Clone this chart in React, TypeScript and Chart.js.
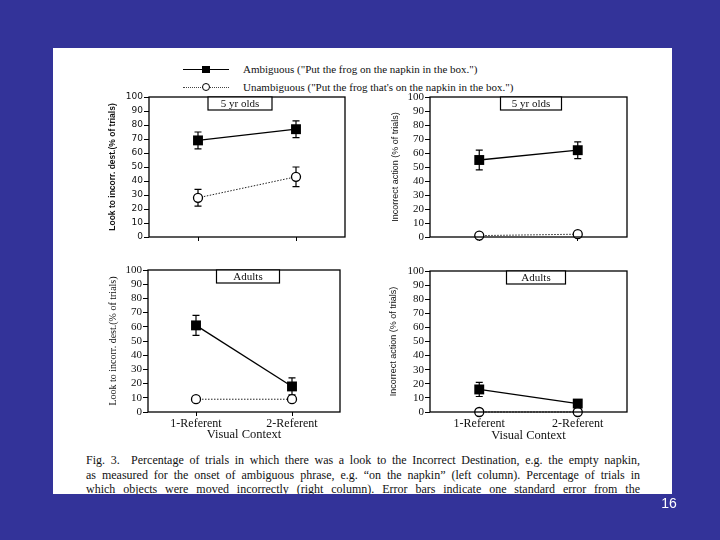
import React, { useEffect, useLayoutEffect, useRef } from "react";
import { Chart, registerables } from "chart.js";

Chart.register(...registerables);

// ---------- data ----------
const categories = ["1-Referent", "2-Referent"];
const legendLabels = [
  'Ambiguous ("Put the frog on the napkin in the box.")',
  'Unambiguous ("Put the frog that\'s on the napkin in the box.")',
];
const yAxisTitles = ["Look to incorr. dest.(% of trials)", "Incorrect action (% of trials)"];
const groupLabels = ["5 yr olds", "Adults"];
const xAxisTitle = "Visual Context";

const kidsLookAmbiguous = [69, 77];
const kidsLookAmbiguousErr = [6, 6];
const kidsLookUnambiguous = [28, 43];
const kidsLookUnambiguousErr = [6, 7];

const kidsActionAmbiguous = [55, 62];
const kidsActionAmbiguousErr = [7, 6];
const kidsActionUnambiguous = [1, 2];
const kidsActionUnambiguousErr = [0, 0];

const adultLookAmbiguous = [61, 18];
const adultLookAmbiguousErr = [7, 6];
const adultLookUnambiguous = [9, 9];
const adultLookUnambiguousErr = [0, 0];

const adultActionAmbiguous = [16, 6];
const adultActionAmbiguousErr = [5, 1];
const adultActionUnambiguous = [0, 0];
const adultActionUnambiguousErr = [0, 0];

const captionLines = [
  "Fig. 3.  Percentage of trials in which there was a look to the Incorrect Destination, e.g. the empty napkin,",
  "as measured for the onset of ambiguous phrase, e.g. \u201Con the napkin\u201D (left column). Percentage of trials in",
  "which objects were moved incorrectly (right column). Error bars indicate one standard error from the",
];
const pageNumber = "16";

// ---------- styling / layout ----------
const SERIF = "'Liberation Serif', 'Times New Roman', serif";
const SANS = "'Liberation Sans', Arial, sans-serif";
const W = 720;
const H = 540;

type Panel = {
  amb: number[];
  ambErr: number[];
  un: number[];
  unErr: number[];
  yTitle: string;
  group: string;
  area: { l: number; t: number; r: number; b: number };
  yW: number;
  xH: number;
  boxCx: number;
  boxW: number;
  showX: boolean;
  tickFont: any;
  titleFont: any;
};

const panels: Panel[] = [
  {
    amb: kidsLookAmbiguous, ambErr: kidsLookAmbiguousErr,
    un: kidsLookUnambiguous, unErr: kidsLookUnambiguousErr,
    yTitle: yAxisTitles[0], group: groupLabels[0],
    area: { l: 149, t: 97, r: 345, b: 237 }, yW: 41, xH: 5,
    boxCx: 240, boxW: 64, showX: false,
    tickFont: { family: "'DejaVu Sans', sans-serif", size: 9 },
    titleFont: { family: SANS, size: 8.5, weight: "bold" },
  },
  {
    amb: kidsActionAmbiguous, ambErr: kidsActionAmbiguousErr,
    un: kidsActionUnambiguous, unErr: kidsActionUnambiguousErr,
    yTitle: yAxisTitles[1], group: groupLabels[0],
    area: { l: 430, t: 97, r: 627, b: 237 }, yW: 40, xH: 5,
    boxCx: 531, boxW: 61, showX: false,
    tickFont: { family: SERIF, size: 11 },
    titleFont: { family: SANS, size: 9 },
  },
  {
    amb: adultLookAmbiguous, ambErr: adultLookAmbiguousErr,
    un: adultLookUnambiguous, unErr: adultLookUnambiguousErr,
    yTitle: yAxisTitles[0], group: groupLabels[1],
    area: { l: 148, t: 270, r: 340, b: 412 }, yW: 41, xH: 29,
    boxCx: 248, boxW: 63, showX: true,
    tickFont: { family: SERIF, size: 11 },
    titleFont: { family: SERIF, size: 10 },
  },
  {
    amb: adultActionAmbiguous, ambErr: adultActionAmbiguousErr,
    un: adultActionUnambiguous, unErr: adultActionUnambiguousErr,
    yTitle: yAxisTitles[1], group: groupLabels[1],
    area: { l: 430, t: 271, r: 627, b: 412 }, yW: 42, xH: 30,
    boxCx: 536, boxW: 59, showX: true,
    tickFont: { family: SERIF, size: 11 },
    titleFont: { family: SANS, size: 9 },
  },
];

function PanelChart({ p }: { p: Panel }) {
  const ref = useRef<HTMLCanvasElement | null>(null);
  useEffect(() => {
    if (!ref.current) return;
    const errors = [p.ambErr, p.unErr];
    const framePlugin = {
      id: "frame",
      beforeDatasetsDraw(chart: any) {
        const { ctx } = chart;
        const xs = chart.scales.x;
        const ys = chart.scales.y;
        ctx.save();
        ctx.strokeStyle = "#000";
        ctx.lineWidth = 1.2;
        errors.forEach((errs, di) => {
          const data = chart.data.datasets[di].data as number[];
          errs.forEach((e, i) => {
            if (!e) return;
            const x = xs.getPixelForValue(i);
            const yTop = ys.getPixelForValue(data[i] + e);
            const yBot = ys.getPixelForValue(data[i] - e);
            ctx.beginPath();
            ctx.moveTo(x, yTop);
            ctx.lineTo(x, yBot);
            ctx.moveTo(x - 3.5, yTop);
            ctx.lineTo(x + 3.5, yTop);
            ctx.moveTo(x - 3.5, yBot);
            ctx.lineTo(x + 3.5, yBot);
            ctx.stroke();
          });
        });
        ctx.restore();
      },
      afterDraw(chart: any) {
        const { ctx, chartArea: a } = chart;
        ctx.save();
        ctx.strokeStyle = "#000";
        ctx.lineWidth = 1.3;
        ctx.strokeRect(a.left, a.top, a.right - a.left, a.bottom - a.top);
        const bh = 13;
        const x0 = p.boxCx - p.boxW / 2;
        ctx.fillStyle = "#fff";
        ctx.fillRect(x0, a.top, p.boxW, bh);
        ctx.lineWidth = 1.2;
        ctx.strokeRect(x0, a.top, p.boxW, bh);
        ctx.fillStyle = "#111";
        ctx.font = `11px ${SERIF}`;
        ctx.textAlign = "center";
        ctx.textBaseline = "middle";
        ctx.fillText(p.group, p.boxCx, a.top + bh / 2 + 0.5);
        ctx.restore();
      },
    };
    const chart = new Chart(ref.current, {
      type: "line",
      data: {
        labels: categories,
        datasets: [
          {
            label: legendLabels[0],
            data: p.amb,
            borderColor: "#000",
            borderWidth: 1.3,
            pointStyle: "rect",
            pointRadius: 7,
            pointBackgroundColor: "#000",
            pointBorderColor: "#000",
            pointBorderWidth: 0,
            clip: false,
          } as any,
          {
            label: legendLabels[1],
            data: p.un,
            borderColor: "#222",
            borderWidth: 1,
            borderDash: [1.5, 1.5],
            pointStyle: "circle",
            pointRadius: 4.5,
            pointBackgroundColor: "#fff",
            pointBorderColor: "#000",
            pointBorderWidth: 1.3,
            clip: false,
          } as any,
        ],
      },
      options: {
        responsive: false,
        animation: false,
        devicePixelRatio: 1,
        layout: {
          padding: {
            left: p.area.l - p.yW,
            top: p.area.t,
            right: W - p.area.r,
            bottom: H - p.area.b - p.xH,
          },
        },
        plugins: { legend: { display: false }, tooltip: { enabled: false } },
        scales: {
          x: {
            type: "category",
            offset: true,
            border: { display: false },
            grid: { display: true, drawOnChartArea: false, drawTicks: true, tickLength: 4, color: "#000", lineWidth: 1 },
            ticks: {
              display: p.showX,
              color: "#111",
              font: { family: SERIF, size: 12, lineHeight: 1 },
              padding: 2,
              maxRotation: 0,
              autoSkip: false,
            },
            title: {
              display: p.showX,
              text: xAxisTitle,
              color: "#111",
              font: { family: SERIF, size: 12.5, lineHeight: 1 },
              padding: 0,
            },
            afterFit: (s: any) => {
              s.height = p.xH;
            },
          },
          y: {
            min: 0,
            max: 100,
            border: { display: false },
            grid: { display: true, drawOnChartArea: false, drawTicks: true, tickLength: 5, color: "#000", lineWidth: 1 },
            ticks: {
              stepSize: 10,
              autoSkip: false,
              color: "#111",
              font: { ...p.tickFont, lineHeight: 1 },
              padding: 1,
            },
            title: {
              display: true,
              text: p.yTitle,
              color: "#111",
              font: { ...p.titleFont, lineHeight: 1.2 },
              padding: 0,
            },
            afterFit: (s: any) => {
              s.width = p.yW;
            },
          },
        },
      } as any,
      plugins: [framePlugin],
    });
    return () => chart.destroy();
  }, [p]);
  return (
    <canvas
      ref={ref}
      width={W}
      height={H}
      style={{ position: "absolute", left: 0, top: 0, width: W, height: H, pointerEvents: "none" }}
    />
  );
}

function Caption() {
  const refs = useRef<(HTMLSpanElement | null)[]>([]);
  const lineWidth = 554;
  useLayoutEffect(() => {
    refs.current.forEach((el) => {
      if (!el) return;
      el.style.wordSpacing = "0px";
      const w = el.getBoundingClientRect().width;
      const spaces = (el.textContent || "").split(" ").length - 1;
      if (spaces > 0) el.style.wordSpacing = `${(lineWidth - w) / spaces}px`;
    });
  }, []);
  return (
    <>
      {captionLines.map((line, i) => (
        <div
          key={i}
          style={{
            position: "absolute",
            left: 86 - 53,
            top: 453 - 48 + i * 14.5,
            width: lineWidth,
            height: 15,
            lineHeight: "15px",
            whiteSpace: "pre",
            fontFamily: SERIF,
            fontSize: 12,
            color: "#111",
          }}
        >
          <span ref={(el) => (refs.current[i] = el)}>{line}</span>
        </div>
      ))}
    </>
  );
}

export default function App() {
  return (
    <div
      style={{
        position: "fixed",
        left: 0,
        top: 0,
        width: W,
        height: H,
        background: "#333399",
        overflow: "hidden",
      }}
    >
      <div
        style={{
          position: "absolute",
          left: 53,
          top: 48,
          width: 619,
          height: 446,
          background: "#fff",
          overflow: "hidden",
        }}
      >
        <Caption />
      </div>

      {/* legend */}
      <div style={{ position: "absolute", left: 183, top: 68.5, width: 46, borderTop: "1.3px solid #000" }} />
      <div style={{ position: "absolute", left: 202, top: 65.5, width: 8, height: 7, background: "#000" }} />
      <div
        style={{
          position: "absolute",
          left: 243,
          top: 62,
          fontFamily: SERIF,
          fontSize: 11,
          lineHeight: "14px",
          color: "#111",
          whiteSpace: "pre",
        }}
      >
        {legendLabels[0]}
      </div>
      <div style={{ position: "absolute", left: 183, top: 86.5, width: 46, borderTop: "1px dotted #444" }} />
      <div
        style={{
          position: "absolute",
          left: 202,
          top: 83,
          width: 6,
          height: 6,
          borderRadius: "50%",
          border: "1px solid #000",
          background: "#fff",
        }}
      />
      <div
        style={{
          position: "absolute",
          left: 243,
          top: 80,
          fontFamily: SERIF,
          fontSize: 11,
          lineHeight: "14px",
          color: "#111",
          whiteSpace: "pre",
        }}
      >
        {legendLabels[1]}
      </div>

      {panels.map((p, i) => (
        <PanelChart key={i} p={p} />
      ))}

      <div
        style={{
          position: "absolute",
          left: 654,
          top: 495,
          width: 30,
          textAlign: "center",
          fontFamily: SANS,
          fontSize: 14,
          lineHeight: "16px",
          color: "#fff",
        }}
      >
        {pageNumber}
      </div>
    </div>
  );
}
